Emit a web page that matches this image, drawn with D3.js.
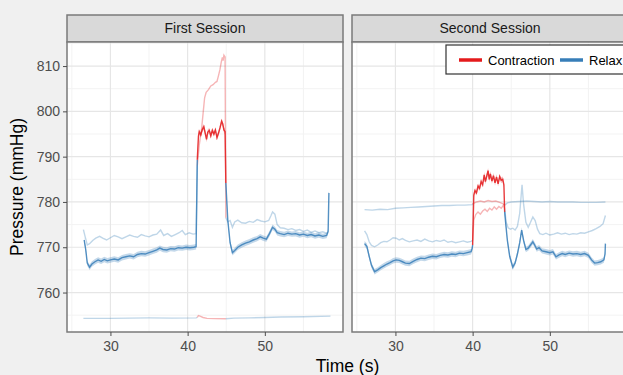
<!DOCTYPE html>
<html>
<head>
<meta charset="utf-8">
<script src="https://cdn.jsdelivr.net/npm/d3@7"></script>
<style>
  body { margin: 0; background: #f0f0f0; }
  svg { display: block; }
</style>
</head>
<body>
<div id="chart"></div>
<script>
// ---- data ----
var sessions = ["First Session", "Second Session"];
var phases = ["Contraction", "Relax"];
// contraction window per session [start, end) in seconds
var contraction1 = [41.25, 44.95];
var contraction2 = [40.0, 44.1];

// session 1
var s1Main = [[26.6,771.6],[26.8,769.5],[27.0,766.5],[27.3,765.6],[27.6,766.3],[28.0,766.8],[28.4,767.2],[28.8,766.9],[29.2,767.3],[29.6,767.0],[30.0,767.2],[30.5,767.4],[31.0,767.2],[31.5,767.7],[32.0,767.9],[32.5,768.1],[33.0,767.9],[33.5,768.4],[34.0,768.6],[34.5,768.5],[35.0,768.8],[35.5,769.1],[36.0,769.4],[36.4,769.8],[36.8,769.5],[37.3,769.4],[37.8,769.7],[38.3,769.6],[38.8,769.9],[39.3,769.8],[39.8,770.0],[40.3,769.9],[40.8,770.0],[41.1,770.1],
  [41.25,789.3],[41.4,794.5],[41.5,795.5],[41.7,794.8],[41.9,796.0],[42.1,796.6],[42.3,795.0],[42.45,793.8],[42.6,795.4],[42.8,795.8],[43.0,794.6],[43.2,795.8],[43.4,795.0],[43.6,795.9],[43.8,794.2],[44.0,795.2],[44.2,796.4],[44.4,797.8],[44.55,797.2],[44.7,795.9],[44.85,795.5],
  [44.95,784.2],[45.2,776.0],[45.5,771.0],[45.8,768.8],[46.1,769.3],[46.5,770.0],[47.0,770.5],[47.5,770.9],[48.0,771.2],[48.5,771.6],[49.0,771.9],[49.4,772.3],[49.8,772.0],[50.2,771.8],[50.6,773.0],[51.0,774.4],[51.3,774.0],[51.6,773.2],[52.0,773.0],[52.5,772.8],[53.0,773.1],[53.5,772.9],[54.0,773.0],[54.5,772.7],[55.0,772.9],[55.5,772.6],[56.0,772.8],[56.5,772.5],[57.0,772.7],[57.5,772.4],[58.0,772.6],[58.2,773.5],[58.3,782.0]];
var s1Light = [[26.5,773.9],[26.7,772.5],[27.0,770.5],[27.3,770.8],[27.7,771.5],[28.1,772.0],[28.6,772.4],[29.0,772.0],[29.5,771.6],[30.0,772.1],[30.5,772.6],[31.0,772.3],[31.5,771.9],[32.0,772.3],[32.5,772.7],[33.0,772.4],[33.5,772.2],[34.0,772.8],[34.5,772.5],[35.0,772.3],[35.5,772.7],[36.0,772.9],[36.5,773.8],[36.9,772.6],[37.4,773.0],[37.9,772.4],[38.4,772.8],[38.9,773.2],[39.3,773.7],[39.7,772.8],[40.2,773.2],[40.7,772.9],[41.1,773.0],
  [41.25,788.0],[41.5,792.5],[41.8,796.0],[42.0,799.5],[42.2,803.0],[42.4,804.2],[42.7,804.8],[43.0,805.6],[43.3,805.9],[43.6,806.4],[43.8,806.6],[44.0,807.9],[44.2,809.3],[44.35,810.8],[44.5,811.9],[44.6,811.2],[44.7,812.4],[44.85,812.0],
  [44.95,776.5],[45.2,775.6],[45.5,775.9],[45.8,774.4],[46.1,775.6],[46.5,776.0],[47.0,775.4],[47.5,775.3],[48.0,775.7],[48.5,775.5],[49.0,776.1],[49.5,775.8],[50.0,775.6],[50.5,775.9],[50.8,777.0],[51.0,777.8],[51.3,777.3],[51.6,775.0],[52.0,774.3],[52.5,774.2],[53.0,773.9],[53.5,774.1],[54.0,773.7],[54.5,773.9],[55.0,773.5],[55.5,773.8],[56.0,773.3],[56.5,773.6],[57.0,773.2],[57.5,773.4],[58.0,773.1],[58.2,773.3]];
var s1Flat = [[26.5,754.3],[30.0,754.3],[35.0,754.4],[38.0,754.35],[41.1,754.4],
  [41.25,754.5],[41.4,754.9],[41.6,754.8],[42.0,754.5],[42.5,754.3],[43.5,754.25],
  [44.95,754.2],[46.0,754.35],[48.0,754.4],[50.0,754.5],[52.0,754.6],[55.0,754.65],[58.5,754.8]];

// session 2
var s2Main = [[26.0,770.8],[26.3,770.2],[26.6,768.0],[26.9,766.0],[27.3,764.6],[27.7,765.0],[28.1,765.5],[28.5,765.9],[28.9,766.3],[29.3,766.6],[29.7,767.0],[30.1,767.2],[30.5,767.1],[30.9,766.8],[31.3,766.5],[31.8,766.4],[32.3,766.9],[32.8,767.3],[33.3,767.6],[33.8,767.5],[34.3,767.8],[34.8,768.0],[35.3,767.9],[35.8,768.2],[36.3,768.4],[36.8,768.3],[37.3,768.5],[37.8,768.4],[38.3,768.7],[38.8,768.6],[39.3,768.8],[39.8,769.0],[39.95,769.8],
  [40.0,770.5],[40.15,781.5],[40.3,782.5],[40.5,782.0],[40.7,783.5],[40.9,783.0],[41.1,784.5],[41.3,783.8],[41.5,786.0],[41.65,784.5],[41.8,785.5],[42.0,786.9],[42.15,785.0],[42.3,786.2],[42.5,784.6],[42.7,785.8],[42.9,784.2],[43.1,785.5],[43.3,784.0],[43.5,785.6],[43.7,784.8],[43.9,785.0],[44.05,783.8],
  [44.15,777.8],[44.3,775.0],[44.5,771.5],[44.8,768.0],[45.2,765.6],[45.5,766.5],[45.8,768.5],[46.1,771.0],[46.35,773.8],[46.6,771.5],[46.9,769.5],[47.2,769.8],[47.5,770.5],[47.8,771.2],[48.0,770.6],[48.3,769.6],[48.6,769.9],[49.0,769.2],[49.5,769.0],[50.0,768.8],[50.4,769.0],[50.8,767.9],[51.2,768.3],[51.6,768.6],[52.0,768.4],[52.5,768.7],[53.0,768.5],[53.5,768.6],[54.0,768.4],[54.5,768.6],[55.0,768.2],[55.4,767.2],[55.8,766.5],[56.2,766.6],[56.6,766.8],[57.0,767.2],[57.15,768.5],[57.2,770.8]];
var s2Light = [[26.0,773.6],[26.3,772.8],[26.6,771.2],[26.9,770.4],[27.3,770.1],[27.7,770.5],[28.1,771.0],[28.5,771.3],[28.9,771.2],[29.3,771.6],[29.7,772.1],[30.1,772.0],[30.5,771.6],[30.9,771.9],[31.3,771.5],[31.8,771.2],[32.3,771.4],[32.8,771.6],[33.3,771.3],[33.8,771.8],[34.3,771.4],[34.8,771.2],[35.3,771.5],[35.8,771.3],[36.3,771.6],[36.8,771.1],[37.3,771.3],[37.8,771.0],[38.3,771.2],[38.8,771.4],[39.3,771.1],[39.8,771.3],
  [40.0,771.5],[40.15,776.0],[40.4,777.2],[40.7,777.8],[41.0,777.3],[41.3,778.0],[41.6,778.4],[41.9,777.9],[42.2,778.6],[42.5,778.2],[42.8,778.9],[43.1,778.4],[43.4,779.0],[43.7,778.6],[44.0,779.3],
  [44.15,778.5],[44.35,775.5],[44.6,774.3],[44.9,774.0],[45.2,774.2],[45.5,773.8],[45.8,774.6],[46.1,777.5],[46.4,783.8],[46.6,779.5],[46.9,775.5],[47.2,774.4],[47.5,775.5],[47.8,776.7],[48.1,775.9],[48.4,774.0],[48.7,773.0],[49.1,772.8],[49.5,773.1],[50.0,772.7],[50.5,772.9],[51.0,773.2],[51.5,772.9],[52.0,773.1],[52.5,772.8],[53.0,773.0],[53.5,772.9],[54.0,773.2],[54.5,773.1],[55.0,773.4],[55.5,773.7],[56.0,774.1],[56.5,774.6],[56.9,775.2],[57.2,777.0]];
var s2Flat = [[26.0,778.3],[27.0,778.2],[28.0,778.4],[29.0,778.3],[30.0,778.6],[31.0,778.7],[32.0,778.8],[33.0,778.9],[34.0,779.0],[35.0,779.1],[36.0,779.2],[37.0,779.2],[38.0,779.3],[39.0,779.3],[39.95,779.4],
  [40.0,779.6],[40.5,780.0],[41.0,780.2],[41.5,780.0],[42.0,780.3],[42.5,780.1],[43.0,780.2],[43.5,779.9],[44.05,779.5],
  [44.15,779.3],[44.5,779.8],[45.0,780.0],[46.0,780.1],[47.0,780.2],[48.0,780.1],[49.0,780.0],[50.0,780.1],[51.0,780.0],[52.0,780.0],[53.0,780.0],[54.0,779.9],[55.0,779.9],[56.0,779.9],[57.2,780.0]];

var xTicks = [30, 40, 50];
var xMinor = [25, 35, 45, 55];
var yTicks = [760, 770, 780, 790, 800, 810];
var yMinor = [755, 765, 775, 785, 795, 805, 815];

(function () {
  var width = 623, height = 375;
  var color = {"Contraction": "#e41a1c", "Relax": "#377eb8"};
  var panelW = 276, panelH = 290, stripH = 27;
  var panelTop = 42;
  var panelLeft = [67, 352];
  var lightOpacity = 0.32;

  var panels = [
    {name: sessions[0], window: contraction1, main: s1Main, light: [s1Flat, s1Light]},
    {name: sessions[1], window: contraction2, main: s2Main, light: [s2Flat, s2Light]}
  ];

  // scales, ggplot-style 5% expansion
  var all = [].concat(s1Main, s1Light, s1Flat, s2Main, s2Light, s2Flat);
  var xExt = d3.extent(all, function (d) { return d[0]; });
  var yExt = d3.extent(all, function (d) { return d[1]; });
  var xPad = (xExt[1] - xExt[0]) * 0.05, yPad = (yExt[1] - yExt[0]) * 0.05;
  var x = d3.scaleLinear().domain([xExt[0] - xPad, xExt[1] + xPad]).range([0, panelW]);
  var y = d3.scaleLinear().domain([yExt[0] - yPad, yExt[1] + yPad]).range([panelH, 0]);

  // split a series into runs of the same phase; each run borrows the next run's first point
  function runs(series, win) {
    var out = [], cur = null;
    series.forEach(function (d) {
      var ph = (d[0] >= win[0] && d[0] < win[1]) ? "Contraction" : "Relax";
      if (!cur || cur.phase !== ph) {
        if (cur) cur.points.push(d);
        cur = {phase: ph, points: []};
        out.push(cur);
      }
      cur.points.push(d);
    });
    return out;
  }

  var line = d3.line()
      .x(function (d) { return x(d[0]); })
      .y(function (d) { return y(d[1]); });
  var band = d3.area()
      .x(function (d) { return x(d[0]); })
      .y0(function (d) { return y(d[1] - 0.6); })
      .y1(function (d) { return y(d[1] + 0.6); });

  var svg = d3.select("#chart").append("svg")
      .attr("width", width)
      .attr("height", height)
      .style("font-family", "'Liberation Sans', Arial, sans-serif");

  svg.append("rect")
      .attr("width", width)
      .attr("height", height)
      .attr("fill", "#f0f0f0");

  svg.append("defs").append("clipPath")
      .attr("id", "clip")
    .append("rect")
      .attr("width", panelW)
      .attr("height", panelH);

  panels.forEach(function (p, pi) {
    var left = panelLeft[pi];

    // strip
    var strip = svg.append("g").attr("transform", "translate(" + left + "," + (panelTop - stripH) + ")");
    strip.append("rect")
        .attr("width", panelW)
        .attr("height", stripH)
        .attr("fill", "#d9d9d9")
        .attr("stroke", "#7a7a7a")
        .attr("stroke-width", 1.5);
    strip.append("text")
        .attr("x", panelW / 2)
        .attr("y", stripH / 2)
        .attr("dy", "0.35em")
        .attr("text-anchor", "middle")
        .attr("font-size", "14px")
        .attr("fill", "#1a1a1a")
        .text(p.name);

    var g = svg.append("g").attr("transform", "translate(" + left + "," + panelTop + ")");
    g.append("rect")
        .attr("width", panelW)
        .attr("height", panelH)
        .attr("fill", "#fff");

    // minor grid
    g.append("g").selectAll("line.ym")
        .data(yMinor)
      .enter().append("line")
        .attr("x1", 0).attr("x2", panelW)
        .attr("y1", function (d) { return y(d); })
        .attr("y2", function (d) { return y(d); })
        .attr("stroke", "#f3f3f3")
        .attr("stroke-width", 1);
    g.append("g").selectAll("line.xm")
        .data(xMinor)
      .enter().append("line")
        .attr("y1", 0).attr("y2", panelH)
        .attr("x1", function (d) { return x(d); })
        .attr("x2", function (d) { return x(d); })
        .attr("stroke", "#f3f3f3")
        .attr("stroke-width", 1);
    // major grid
    g.append("g").selectAll("line.y")
        .data(yTicks)
      .enter().append("line")
        .attr("x1", 0).attr("x2", panelW)
        .attr("y1", function (d) { return y(d); })
        .attr("y2", function (d) { return y(d); })
        .attr("stroke", "#e6e6e6")
        .attr("stroke-width", 1.2);
    g.append("g").selectAll("line.x")
        .data(xTicks)
      .enter().append("line")
        .attr("y1", 0).attr("y2", panelH)
        .attr("x1", function (d) { return x(d); })
        .attr("x2", function (d) { return x(d); })
        .attr("stroke", "#e6e6e6")
        .attr("stroke-width", 1.2);

    var plot = g.append("g").attr("clip-path", "url(#clip)");

    // faint series
    p.light.forEach(function (s) {
      runs(s, p.window).forEach(function (r) {
        plot.append("path")
            .attr("d", line(r.points))
            .attr("fill", "none")
            .attr("stroke", color[r.phase])
            .attr("stroke-opacity", lightOpacity)
            .attr("stroke-width", 1.4);
      });
    });

    // main series with band
    runs(p.main, p.window).forEach(function (r) {
      plot.append("path")
          .attr("d", band(r.points))
          .attr("fill", color[r.phase])
          .attr("opacity", 0.3);
      plot.append("path")
          .attr("d", line(r.points))
          .attr("fill", "none")
          .attr("stroke", color[r.phase])
          .attr("stroke-opacity", 0.85)
          .attr("stroke-width", 1.4);
    });

    // panel border
    g.append("rect")
        .attr("width", panelW)
        .attr("height", panelH)
        .attr("fill", "none")
        .attr("stroke", "#7a7a7a")
        .attr("stroke-width", 1.5);

    // x axis
    var xa = g.append("g")
        .attr("transform", "translate(0," + panelH + ")")
        .call(d3.axisBottom(x).tickValues(xTicks).tickSize(4).tickPadding(5));
    xa.select(".domain").remove();
    xa.selectAll("line").attr("stroke", "#4d4d4d");
    xa.selectAll("text").attr("font-size", "14px").attr("fill", "#4d4d4d").attr("font-family", null);

    // y axis on first panel only
    if (pi === 0) {
      var ya = g.append("g")
          .call(d3.axisLeft(y).tickValues(yTicks).tickSize(4).tickPadding(3));
      ya.select(".domain").remove();
      ya.selectAll("line").attr("stroke", "#4d4d4d");
      ya.selectAll("text").attr("font-size", "14px").attr("fill", "#4d4d4d").attr("font-family", null);
    }
  });

  // axis titles
  svg.append("text")
      .attr("x", (panelLeft[0] + panelLeft[1] + panelW) / 2)
      .attr("y", 372)
      .attr("text-anchor", "middle")
      .attr("font-size", "17.5px")
      .attr("fill", "#000")
      .text("Time (s)");
  svg.append("text")
      .attr("transform", "translate(23," + (panelTop + panelH / 2) + ") rotate(-90)")
      .attr("text-anchor", "middle")
      .attr("font-size", "17.5px")
      .attr("fill", "#000")
      .text("Pressure (mmHg)");

  // legend inside second panel
  var legend = svg.append("g").attr("transform", "translate(446,45)");
  legend.append("rect")
      .attr("width", 200)
      .attr("height", 29)
      .attr("fill", "#fff")
      .attr("stroke", "#333")
      .attr("stroke-width", 1.2);
  var keyX = [13, 114];
  var labelX = [42, 143];
  phases.forEach(function (ph, i) {
    legend.append("line")
        .attr("x1", keyX[i]).attr("x2", keyX[i] + 23)
        .attr("y1", 15).attr("y2", 15)
        .attr("stroke", color[ph])
        .attr("stroke-width", 3.5);
    legend.append("text")
        .attr("x", labelX[i])
        .attr("y", 15)
        .attr("dy", "0.35em")
        .attr("font-size", "13px")
        .attr("fill", "#000")
        .text(ph);
  });
}());
</script>
</body>
</html>
